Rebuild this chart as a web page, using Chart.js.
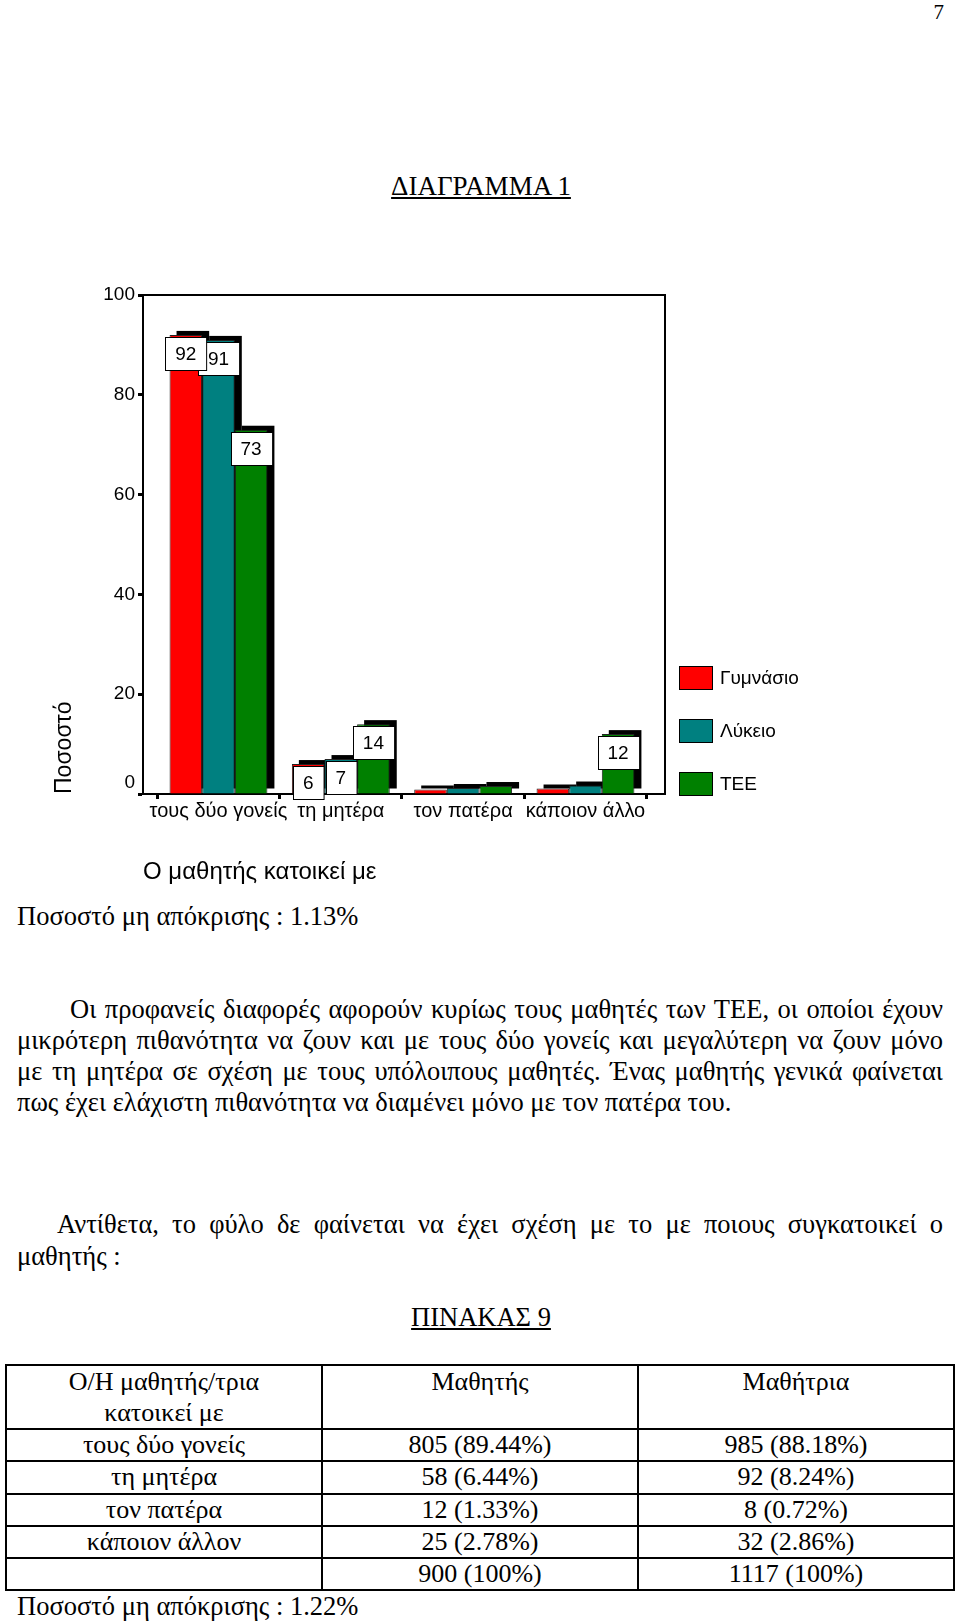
<!DOCTYPE html>
<html>
<head>
<meta charset="utf-8">
<script src="https://cdn.jsdelivr.net/npm/chart.js@4.4.1/dist/chart.umd.min.js"></script>
<style>
html,body{margin:0;padding:0;background:#fff;}
body{width:960px;height:1624px;position:relative;overflow:hidden;font-family:"Liberation Serif","Times New Roman",serif;color:#000;}
.t{position:absolute;white-space:nowrap;font-size:26.5px;line-height:31px;}
.j{position:absolute;font-size:26.5px;line-height:31px;text-align:justify;text-align-last:justify;}
.u{text-decoration:underline;}
#tbl{position:absolute;left:5px;top:1364px;width:950px;border-collapse:collapse;table-layout:fixed;font-size:26px;line-height:30px;}
#tbl td{border:2px solid #000;text-align:center;padding:0;vertical-align:middle;}
#tbl tr.h td{vertical-align:top;height:61px;line-height:31px;}
#tbl tr.h td.first{vertical-align:middle;}
#tbl tr.r td{height:30.3px;line-height:30px;}
</style>
</head>
<body>
<div class="t" style="right:16px;top:0;font-size:21px;line-height:24px;">7</div>
<div class="t u" style="left:0;width:962px;text-align:center;top:171px;font-size:27px;line-height:30px;">ΔΙΑΓΡΑΜΜΑ 1</div>

<canvas id="c" width="960" height="640" style="position:absolute;left:0;top:260px;width:960px;height:640px;"></canvas>

<div class="t" style="left:17px;top:901px;">Ποσοστό μη απόκρισης : 1.13%</div>

<div class="j" style="left:70px;width:873px;top:994px;">Οι προφανείς διαφορές αφορούν κυρίως τους μαθητές των ΤΕΕ, οι οποίοι έχουν</div>
<div class="j" style="left:17px;width:926px;top:1025px;">μικρότερη πιθανότητα να ζουν και με τους δύο γονείς και μεγαλύτερη να ζουν μόνο</div>
<div class="j" style="left:17px;width:926px;top:1056px;">με τη μητέρα σε σχέση με τους υπόλοιπους μαθητές. Ένας μαθητής γενικά φαίνεται</div>
<div class="t" style="left:17px;top:1087px;">πως έχει ελάχιστη πιθανότητα να διαμένει μόνο με τον πατέρα του.</div>

<div class="j" style="left:57px;width:886px;top:1209px;">Αντίθετα, το φύλο δε φαίνεται να έχει σχέση με το με ποιους συγκατοικεί ο</div>
<div class="t" style="left:17px;top:1241px;">μαθητής :</div>

<div class="t u" style="left:0;width:962px;text-align:center;top:1302px;font-size:26.5px;line-height:30px;">ΠΙΝΑΚΑΣ 9</div>

<table id="tbl"><tbody id="tb"></tbody></table>

<div class="t" style="left:17px;top:1591px;">Ποσοστό μη απόκρισης : 1.22%</div>

<script>
// ---- chart data ----
const categories = ['τους δύο γονείς', 'τη μητέρα', 'τον πατέρα', 'κάποιον άλλο'];
const seriesNames = ['Γυμνάσιο', 'Λύκειο', 'ΤΕΕ'];
const gymnasio = [92, 6, 0.9, 1.1];
const lykeio = [91, 7, 1.2, 1.7];
const tee = [73, 14, 1.6, 12];
const yTicks = [0, 20, 40, 60, 80, 100];
const labelThreshold = 5;

// ---- table data ----
const tableHeader = ['Ο/Η μαθητής/τρια<br>κατοικεί με', 'Μαθητής', 'Μαθήτρια'];
const tableRows = ['τους δύο γονείς', 'τη μητέρα', 'τον πατέρα', 'κάποιον άλλον', ''];
const boysCol = ['805 (89.44%)', '58 (6.44%)', '12 (1.33%)', '25 (2.78%)', '900 (100%)'];
const girlsCol = ['985 (88.18%)', '92 (8.24%)', '8 (0.72%)', '32 (2.86%)', '1117 (100%)'];

// build table
(function(){
  const tb = document.getElementById('tb');
  let html = '<tr class="h"><td class="first">' + tableHeader[0] + '</td><td>' + tableHeader[1] + '</td><td>' + tableHeader[2] + '</td></tr>';
  for (let i = 0; i < tableRows.length; i++) {
    html += '<tr class="r"><td>' + (tableRows[i] || '&nbsp;') + '</td><td>' + boysCol[i] + '</td><td>' + girlsCol[i] + '</td></tr>';
  }
  tb.innerHTML = html;
})();

Chart.defaults.font.family = '"Liberation Sans", Arial, sans-serif';
Chart.defaults.color = '#000';

const xMin = -0.617, xMax = 3.65;

const shadowPlugin = {
  id: 'barShadow',
  beforeDatasetsDraw(chart) {
    const ctx = chart.ctx;
    ctx.save();
    ctx.fillStyle = '#000';
    chart.data.datasets.forEach((ds, di) => {
      const meta = chart.getDatasetMeta(di);
      meta.data.forEach(el => {
        const p = el.getProps(['x', 'y', 'base', 'width'], true);
        const top = p.y - 4, bottom = p.base - 5;
        if (bottom > top) ctx.fillRect(p.x - p.width / 2 + 7, top, p.width, bottom - top);
      });
    });
    ctx.restore();
  }
};

const valueLabelPlugin = {
  id: 'valueLabels',
  afterDatasetsDraw(chart) {
    const ctx = chart.ctx;
    ctx.save();
    ctx.font = '19px "Liberation Sans", Arial, sans-serif';
    ctx.textAlign = 'center';
    ctx.textBaseline = 'middle';
    for (let di = chart.data.datasets.length - 1; di >= 0; di--) {
      const ds = chart.data.datasets[di];
      const meta = chart.getDatasetMeta(di);
      meta.data.forEach((el, i) => {
        const v = ds.data[i].y;
        if (v < labelThreshold) return;
        const p = el.getProps(['x', 'y'], true);
        const txt = String(v);
        const w = ctx.measureText(txt).width + 20, h = 33;
        const x0 = Math.round(p.x - w / 2) + 0.5, y0 = Math.round(p.y + 2) + 0.5;
        ctx.fillStyle = '#fff';
        ctx.fillRect(x0, y0, w, h);
        ctx.strokeStyle = '#000';
        ctx.lineWidth = 1;
        ctx.strokeRect(x0, y0, w, h);
        ctx.fillStyle = '#000';
        ctx.fillText(txt, p.x, y0 + h / 2 + 1);
      });
    }
    ctx.restore();
  }
};

const legendPlugin = {
  id: 'sideLegend',
  afterDraw(chart) {
    const ctx = chart.ctx;
    ctx.save();
    ctx.font = '19px "Liberation Sans", Arial, sans-serif';
    ctx.textAlign = 'left';
    ctx.textBaseline = 'middle';
    chart.data.datasets.forEach((ds, i) => {
      const bx = 679.5, by = 406.5 + i * 53;
      ctx.fillStyle = ds.backgroundColor;
      ctx.fillRect(bx, by, 33, 23);
      ctx.strokeStyle = '#000';
      ctx.lineWidth = 1;
      ctx.strokeRect(bx, by, 33, 23);
      ctx.fillStyle = '#000';
      ctx.fillText(ds.label, 720, by + 12);
    });
    ctx.restore();
  }
};

const toPoints = arr => arr.map((v, i) => ({ x: i, y: v }));
const seriesData = [gymnasio, lykeio, tee];
const seriesColors = ['#ff0000', '#008080', '#008000'];

new Chart(document.getElementById('c'), {
  type: 'bar',
  data: {
    datasets: seriesNames.map((name, k) => ({
      label: name,
      data: toPoints(seriesData[k]),
      backgroundColor: seriesColors[k],
      borderColor: '#222',
      borderWidth: 1,
      borderSkipped: 'start',
      categoryPercentage: 0.8,
      barPercentage: 1.0
    }))
  },
  options: {
    responsive: false,
    animation: false,
    devicePixelRatio: 1,
    layout: { padding: { top: 35, right: 295, bottom: 13, left: 0 } },
    plugins: { legend: { display: false }, tooltip: { enabled: false } },
    scales: {
      x: {
        type: 'linear', position: 'bottom', min: xMin, max: xMax, offset: false,
        afterBuildTicks: s => { s.ticks = categories.map((c, i) => ({ value: i })); },
        ticks: { autoSkip: false, maxRotation: 0, minRotation: 0, color: '#000',
                 font: { size: 20 }, padding: 0,
                 callback: v => categories[v] !== undefined ? categories[v] : '' },
        grid: { display: true, drawOnChartArea: false, drawTicks: true, tickLength: 5, tickWidth: 3, tickColor: '#000' },
        border: { display: true, color: '#000', width: 2 },
        title: { display: true, text: 'Ο μαθητής κατοικεί με', align: 'start', color: '#000',
                 font: { size: 24 }, padding: { top: 0, bottom: 0 } },
        afterFit: s => { s.height = 93; }
      },
      x2: {
        type: 'linear', position: 'top', min: xMin, max: xMax,
        ticks: { display: false },
        grid: { display: true, drawOnChartArea: false, drawTicks: false },
        border: { display: true, color: '#000', width: 2 },
        afterFit: s => { s.height = 0; }
      },
      y: {
        type: 'linear', position: 'left', min: 0, max: 100,
        afterBuildTicks: s => { s.ticks = yTicks.map(v => ({ value: v })); },
        ticks: { color: '#000', font: { size: 19 }, padding: 3,
                 callback: v => v === 0 ? ['0', ''] : String(v) },
        grid: { display: true, drawOnChartArea: false, drawTicks: true, tickLength: 5, tickWidth: 3, tickColor: '#000' },
        border: { display: true, color: '#000', width: 2 },
        title: { display: true, text: 'Ποσοστό', align: 'start', color: '#000',
                 font: { size: 23 }, padding: { top: 51, bottom: 0 } },
        afterFit: s => { s.width = 143; }
      },
      y2: {
        type: 'linear', position: 'right', min: 0, max: 100,
        ticks: { display: false },
        grid: { display: true, drawOnChartArea: false, drawTicks: false },
        border: { display: true, color: '#000', width: 2 },
        afterFit: s => { s.width = 0; }
      }
    }
  },
  plugins: [shadowPlugin, valueLabelPlugin, legendPlugin]
});
</script>
</body>
</html>
